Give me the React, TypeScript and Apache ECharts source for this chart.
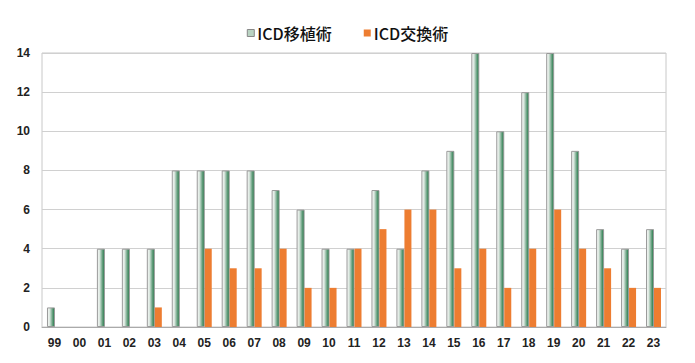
import React, { useEffect, useRef } from "react";
import * as echarts from "echarts";

const categories = ["99","00","01","02","03","04","05","06","07","08","09","10","11","12","13","14","15","16","17","18","19","20","21","22","23"];
const implantValues = [1,0,4,4,4,8,8,8,8,7,6,4,4,7,4,8,9,14,10,12,14,9,5,4,5];
const replaceValues = [0,0,0,0,1,0,4,3,3,4,2,2,4,5,6,6,3,4,2,4,6,4,3,2,2];
const seriesNames = ["ICD移植術", "ICD交換術"];

export default function App() {
  const ref = useRef<HTMLDivElement>(null);
  useEffect(() => {
    if (!ref.current) return;
    const chart = echarts.init(ref.current, undefined, { renderer: "svg" });
    const font = "'Liberation Sans', Arial, 'Noto Sans CJK JP', sans-serif";
    chart.setOption({
      animation: false,
      backgroundColor: "#ffffff",
      legend: {
        left: "center",
        top: 20,
        itemWidth: 7,
        itemHeight: 7,
        itemGap: 32,
        icon: "rect",
        textStyle: { fontSize: 16, color: "#111", fontWeight: 500, fontFamily: "'Noto Sans CJK JP', sans-serif", padding: [0, 0, 0, -2] },
        data: [
          { name: seriesNames[0], itemStyle: { color: "#b9d3c2", borderColor: "#888", borderWidth: 1 } },
          { name: seriesNames[1], itemStyle: { color: "#ED7D31" } },
        ],
      },
      grid: {
        left: 42,
        right: 29,
        top: 53,
        bottom: 36,
        show: true,
        borderColor: "#c8c8c8",
        borderWidth: 1,
      },
      xAxis: {
        type: "category",
        data: categories,
        axisLine: { lineStyle: { color: "#aaa" } },
        axisTick: { show: false },
        axisLabel: { color: "#222", fontSize: 12, fontWeight: "bold", fontFamily: font, margin: 10 },
      },
      yAxis: {
        type: "value",
        min: 0,
        max: 14,
        interval: 2,
        axisLine: { show: false },
        axisTick: { show: false },
        splitLine: { lineStyle: { color: "#d0d0d0" } },
        axisLabel: { color: "#222", fontSize: 12, fontWeight: "bold", fontFamily: font, margin: 12 },
      },
      series: [
        {
          name: seriesNames[0],
          type: "bar",
          data: implantValues.map((v) => (v === 0 ? { value: v, itemStyle: { borderWidth: 0 } } : v)),
          barWidth: 8,
          barGap: "0%",
          itemStyle: {
            color: new echarts.graphic.LinearGradient(0, 0, 1, 0, [
              { offset: 0, color: "#f7f8f7" },
              { offset: 0.3, color: "#dde8e1" },
              { offset: 0.7, color: "#6aa282" },
              { offset: 1, color: "#1b7642" },
            ]),
            borderColor: "#9a9a9a",
            borderWidth: 1,
          },
        },
        {
          name: seriesNames[1],
          type: "bar",
          data: replaceValues,
          barWidth: 7,
          itemStyle: { color: "#ED7D31" },
        },
      ],
    });
    return () => chart.dispose();
  }, []);
  return <div ref={ref} style={{ width: 695, height: 363, position: "absolute", left: 0, top: 0 }} />;
}
